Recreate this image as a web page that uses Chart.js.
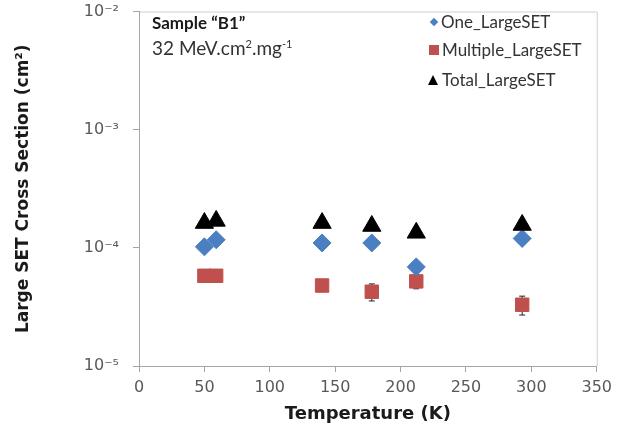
<!DOCTYPE html>
<html><head><meta charset="utf-8">
<script src="https://cdn.jsdelivr.net/npm/chart.js@4/dist/chart.umd.min.js"></script>
<style>
html,body{margin:0;padding:0;background:#fff;}
#wrap{position:relative;width:618px;height:434px;}
canvas{position:absolute;left:0;top:0;}
.ann{position:absolute;font-family:Lato,"Open Sans",sans-serif;color:#1a1a1a;white-space:nowrap;line-height:1;}
.lg{position:absolute;font-family:Lato,"Open Sans",sans-serif;color:#333;font-size:17px;white-space:nowrap;line-height:1;}
.mk{position:absolute;}
</style></head>
<body><div id="wrap"><canvas id="c" width="618" height="434"></canvas>
<div class="ann" style="left:152px;top:14px;font-size:17px;font-weight:bold;">Sample “B1”</div>
<div class="ann" style="left:152px;top:38px;font-size:19px;color:#333;">32 MeV.cm<sup style="font-size:11px">2</sup>.mg<sup style="font-size:11px">-1</sup></div>
<div class="mk" style="left:431px;top:19px;width:6px;height:6px;background:#4a7fc1;transform:rotate(45deg);"></div>
<div class="lg" style="left:441px;top:13px;">One_LargeSET</div>
<div class="mk" style="left:429px;top:45px;width:10px;height:10px;background:#c0504d;"></div>
<div class="lg" style="left:442px;top:41px;">Multiple_LargeSET</div>
<div class="mk" style="left:428px;top:75px;width:0;height:0;border-left:5px solid transparent;border-right:5px solid transparent;border-bottom:10px solid #000;"></div>
<div class="lg" style="left:442px;top:71px;">Total_LargeSET</div>
</div>
<script>
const temperatures = [50, 59, 140, 178, 212, 293];
const oneLarge = [1.02e-4, 1.17e-4, 1.10e-4, 1.10e-4, 6.9e-5, 1.2e-4];
const multipleLarge = [5.8e-5, 5.8e-5, 4.8e-5, 4.25e-5, 5.2e-5, 3.3e-5];
const totalLarge = [1.62e-4, 1.69e-4, 1.62e-4, 1.53e-4, 1.34e-4, 1.56e-4];
const errOne = [0.8e-5, 0.9e-5, 0.8e-5, 0.8e-5, 0.7e-5, 0.9e-5];
const errMultiple = [0.6e-5, 0.6e-5, 0.55e-5, 0.7e-5, 0.7e-5, 0.6e-5];
const errTotal = [1.0e-5, 1.1e-5, 1.0e-5, 1.0e-5, 0.9e-5, 1.0e-5];
const xTicks = [0, 50, 100, 150, 200, 250, 300, 350];
const yTicks = [1e-5, 1e-4, 1e-3, 1e-2];
const yTickLabels = ['10⁻⁵', '10⁻⁴', '10⁻³', '10⁻²'];

function pts(vals){ return temperatures.map((t,i)=>({x:t,y:vals[i]})); }

const errorBars = {
  id:'errorBars',
  beforeDatasetsDraw(chart){
    const ctx=chart.ctx, xs=chart.scales.x, ys=chart.scales.y;
    const sets=[[oneLarge,errOne],[multipleLarge,errMultiple],[totalLarge,errTotal]];
    ctx.save(); ctx.strokeStyle='#222'; ctx.lineWidth=1;
    sets.forEach(([v,e])=>{
      v.forEach((val,i)=>{
        const px=xs.getPixelForValue(temperatures[i]);
        const y1=ys.getPixelForValue(val-e[i]), y2=ys.getPixelForValue(val+e[i]);
        ctx.beginPath();
        ctx.moveTo(px,y1);ctx.lineTo(px,y2);
        ctx.moveTo(px-3,y1);ctx.lineTo(px+3,y1);
        ctx.moveTo(px-3,y2);ctx.lineTo(px+3,y2);
        ctx.stroke();
      });
    });
    ctx.restore();
  }
};
const frame = {
  id:'frame',
  beforeDraw(chart){
    const a=chart.chartArea, ctx=chart.ctx;
    ctx.save(); ctx.strokeStyle='#d0d0d0'; ctx.lineWidth=1;
    ctx.beginPath();
    ctx.moveTo(a.left, a.top+0.5); ctx.lineTo(a.right+0.5, a.top+0.5); ctx.lineTo(a.right+0.5, a.bottom);
    ctx.stroke(); ctx.restore();
  }
};

new Chart(document.getElementById('c'), {
  type:'scatter',
  data:{datasets:[
    {label:'One_LargeSET', data:pts(oneLarge), pointStyle:'rectRot', pointRadius:9, pointHoverRadius:9,
      backgroundColor:'#4a7fc1', borderColor:'#4a7fc1', order:1},
    {label:'Multiple_LargeSET', data:pts(multipleLarge), pointStyle:'rect', pointRadius:9.5, pointHoverRadius:9.5,
      backgroundColor:'#c0504d', borderColor:'#c0504d', order:2},
    {label:'Total_LargeSET', data:pts(totalLarge), pointStyle:'triangle', pointRadius:10.5, pointHoverRadius:10.5,
      backgroundColor:'#000', borderColor:'#000', order:0}
  ]},
  options:{
    responsive:false, animation:false,
    layout:{padding:{top:10,right:21,left:0,bottom:0}},
    plugins:{legend:{display:false}, tooltip:{enabled:false}},
    scales:{
      x:{type:'linear', min:0, max:350,
        afterBuildTicks(s){ s.ticks = xTicks.map(v=>({value:v})); },
        afterFit(s){ s.height=68; },
        grid:{drawOnChartArea:false, tickLength:6, color:'#a6a6a6'},
        border:{color:'#a6a6a6'},
        ticks:{color:'#595959', font:{family:'DejaVu Sans', size:16}, padding:6, maxRotation:0},
        title:{display:true, text:'Temperature (K)', color:'#1a1a1a', font:{family:'DejaVu Sans', size:18, weight:'bold'}, padding:{top:0,bottom:9}}
      },
      y:{type:'logarithmic', min:1e-5, max:1e-2,
        afterBuildTicks(s){ s.ticks = yTicks.map(v=>({value:v})); },
        afterFit(s){ s.width=139; s.paddingTop=0; s.paddingBottom=0; },
        grid:{drawOnChartArea:false, tickLength:6, color:'#a6a6a6'},
        border:{color:'#a6a6a6'},
        ticks:{color:'#595959', font:{family:'DejaVu Sans', size:16}, padding:14,
          callback(v){ const i=yTicks.findIndex(t=>Math.abs(t-v)/t<1e-6); return i>=0?yTickLabels[i]:''; }},
        title:{display:true, text:'Large SET Cross Section (cm²)', color:'#1a1a1a', font:{family:'DejaVu Sans', size:17, weight:'bold'}, padding:{top:13,bottom:4}}
      }
    }
  },
  plugins:[frame, errorBars]
});
</script></body></html>
